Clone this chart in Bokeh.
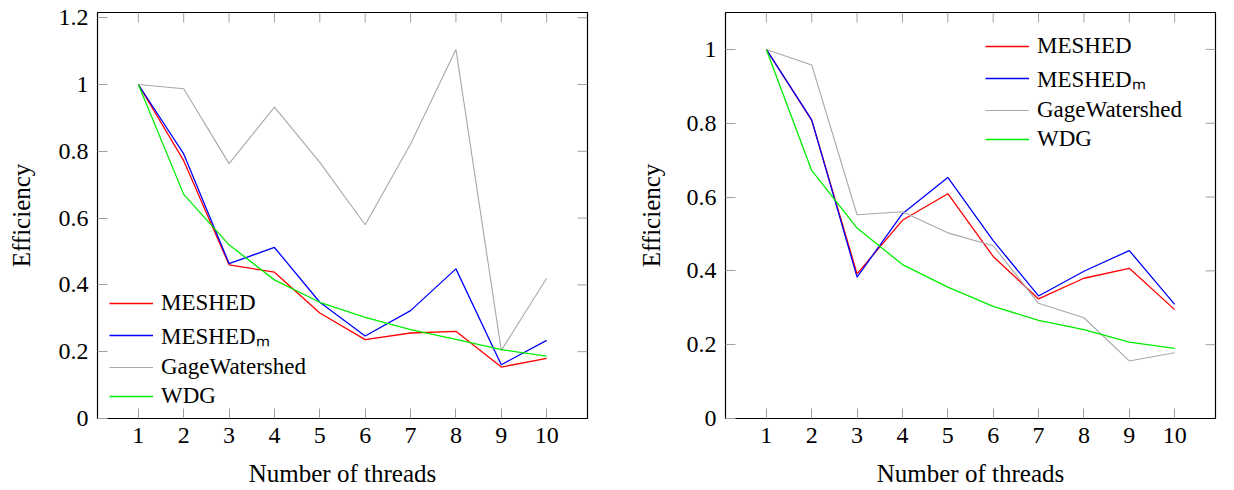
import math
from bokeh.plotting import figure
from bokeh.models import FixedTicker, CustomJSTickFormatter, Legend, LegendItem, Range1d
from bokeh.layouts import row
from bokeh.embed import file_html
from bokeh.resources import INLINE

threads = [1, 2, 3, 4, 5, 6, 7, 8, 9, 10]
series_names = ["MESHED", "MESHEDₘ", "GageWatershed", "WDG"]
x_label = "Number of threads"
y_label = "Efficiency"

# Left panel
left_meshed = [1.0, 0.772, 0.460, 0.438, 0.316, 0.236, 0.256, 0.261, 0.154, 0.180]
left_meshed_m = [1.0, 0.792, 0.464, 0.512, 0.348, 0.247, 0.323, 0.448, 0.161, 0.234]
left_gage = [1.0, 0.987, 0.763, 0.932, 0.767, 0.580, 0.822, 1.105, 0.204, 0.420]
left_wdg = [1.0, 0.671, 0.520, 0.415, 0.348, 0.303, 0.266, 0.237, 0.206, 0.187]

# Right panel
right_meshed = [1.0, 0.808, 0.392, 0.537, 0.609, 0.439, 0.324, 0.380, 0.407, 0.295]
right_meshed_m = [1.0, 0.809, 0.383, 0.555, 0.653, 0.482, 0.332, 0.399, 0.455, 0.309]
right_gage = [1.0, 0.958, 0.552, 0.560, 0.503, 0.468, 0.312, 0.273, 0.156, 0.178]
right_wdg = [1.0, 0.672, 0.516, 0.417, 0.356, 0.304, 0.266, 0.241, 0.207, 0.190]

left_yticks = [0, 0.2, 0.4, 0.6, 0.8, 1.0, 1.2]
right_yticks = [0, 0.2, 0.4, 0.6, 0.8, 1.0]

colors = ["#ff0000", "#0000ff", "#a8a8a8", "#00ee00"]
widths = [1.3, 1.3, 1.1, 1.3]
FONT = "Liberation Serif"
TICK_COLOR = "#a0a0a0"
XMIN, XMAX = 0.1, 10.9


def make_panel(series, ymax, yticks, border_left, border_right, legend_loc, ylab_standoff):
    p = figure(width=617, height=490, output_backend="svg", toolbar_location=None,
               x_range=Range1d(XMIN, XMAX), y_range=Range1d(0, ymax),
               min_border_left=border_left, min_border_right=border_right,
               min_border_top=12, min_border_bottom=72)
    p.grid.visible = False
    p.outline_line_color = "black"
    p.outline_line_width = 1.2
    p.background_fill_color = "white"
    p.border_fill_color = "white"

    fmt = CustomJSTickFormatter(code="return String(tick);")
    for ax in p.xaxis:
        ax.ticker = FixedTicker(ticks=threads)
        ax.axis_label = x_label
        ax.major_label_standoff = 9
        ax.axis_label_standoff = 14
    for ax in p.yaxis:
        ax.ticker = FixedTicker(ticks=yticks)
        ax.formatter = fmt
        ax.axis_label = y_label
        ax.major_label_standoff = 9
        ax.axis_label_standoff = ylab_standoff
    for ax in list(p.xaxis) + list(p.yaxis):
        ax.major_label_text_font = FONT
        ax.major_label_text_font_size = "24px"
        ax.major_label_text_color = "black"
        ax.axis_label_text_font = FONT
        ax.axis_label_text_font_size = "25px"
        ax.axis_label_text_font_style = "normal"
        ax.axis_label_text_color = "black"
        ax.major_tick_in = 10
        ax.major_tick_out = 0
        ax.major_tick_line_color = TICK_COLOR
        ax.minor_tick_line_color = None
        ax.axis_line_color = "black"

    # mirrored ticks on top and right edges (pgfplots style)
    p.ray(x=threads, y=[ymax] * len(threads), length=10, length_units="screen",
          angle=-math.pi / 2, line_color=TICK_COLOR, line_width=1)
    p.ray(x=[XMAX] * len(yticks), y=yticks, length=10, length_units="screen",
          angle=math.pi, line_color=TICK_COLOR, line_width=1)

    items = []
    for name, ys, c, w in zip(series_names, series, colors, widths):
        r = p.line(threads, ys, line_color=c, line_width=w)
        items.append(LegendItem(label=name, renderers=[r]))

    legend = Legend(items=items, location=legend_loc)
    legend.label_text_font = FONT
    legend.label_text_font_size = "23px"
    legend.label_text_color = "black"
    legend.glyph_width = 44
    legend.glyph_height = 20
    legend.label_standoff = 8
    legend.spacing = 3
    legend.padding = 0
    legend.margin = 0
    legend.border_line_color = None
    legend.background_fill_alpha = 0
    p.add_layout(legend)
    return p


p1 = make_panel([left_meshed, left_meshed_m, left_gage, left_wdg], 1.2155, left_yticks,
                97, 30, (12, 9), 21)
p2 = make_panel([right_meshed, right_meshed_m, right_gage, right_wdg], 1.1, right_yticks,
                108, 19, (260, 266), 19)

layout = row(p1, p2)
open("out.html", "w").write(file_html(layout, INLINE))
